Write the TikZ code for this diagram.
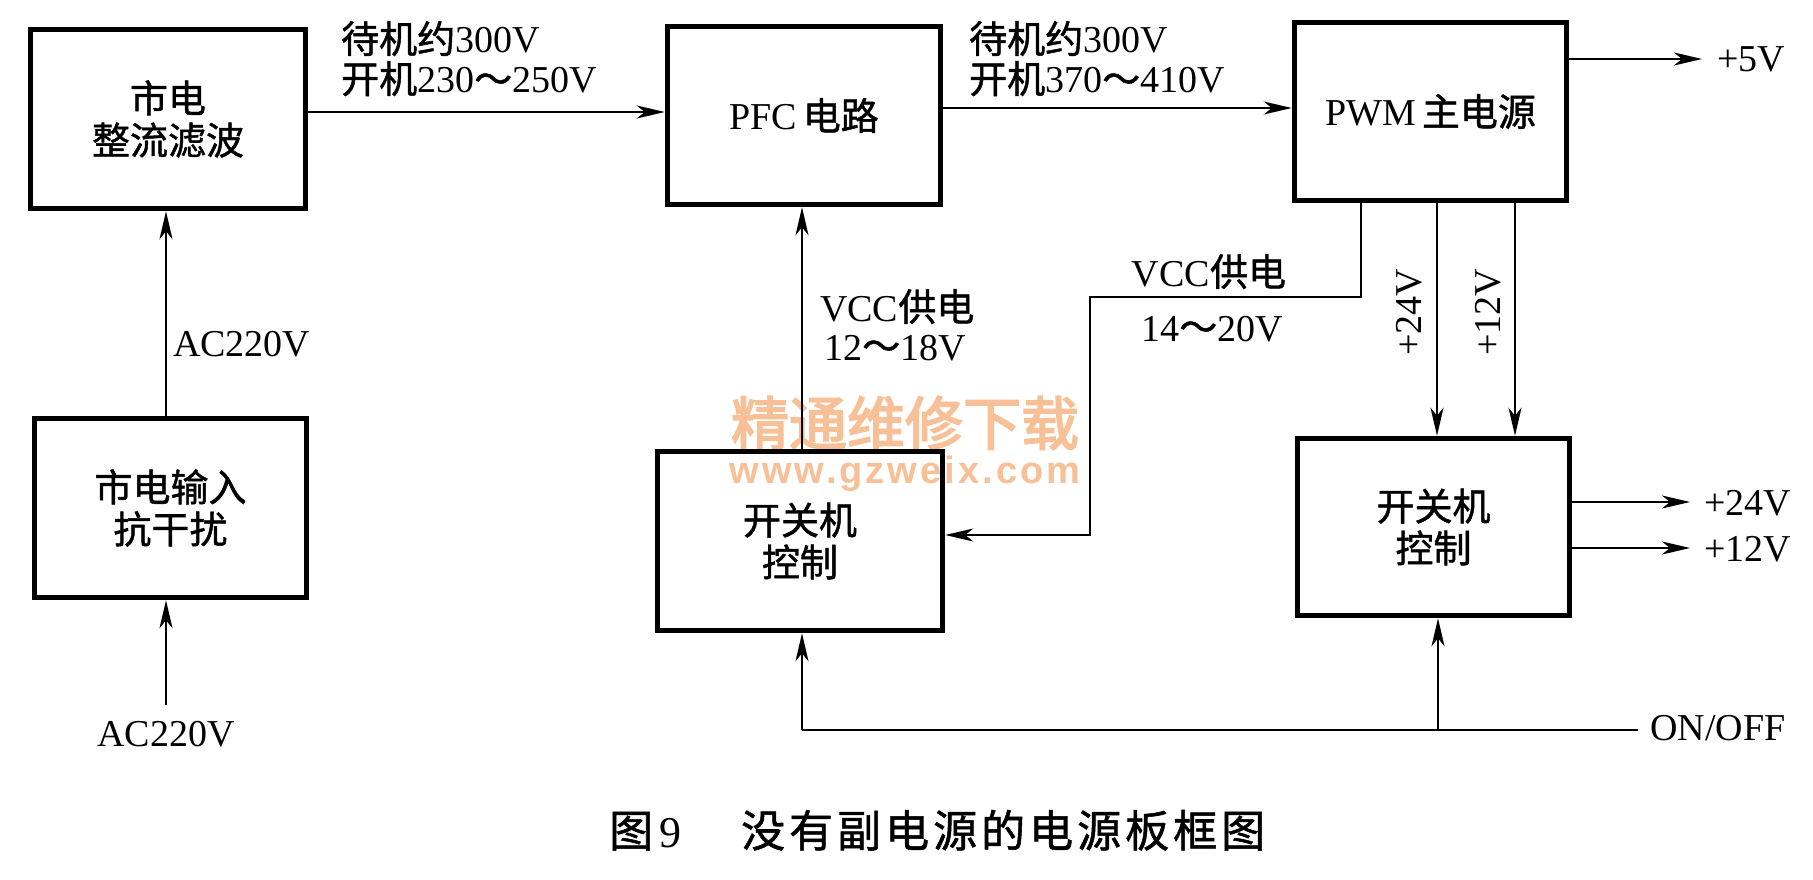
\documentclass[tikz,border=0pt]{standalone}
\usepackage{fontspec}
\setmainfont{Liberation Serif}
\newfontfamily\cjk{Noto Sans CJK SC}[FakeBold=1.2]
\newfontfamily\cjkwm{Noto Sans CJK SC}[FakeBold=3]
\newfontfamily\wmlatin{Liberation Sans}[LetterSpace=8]
\usetikzlibrary{arrows.meta}
\definecolor{wmcol}{RGB}{247,192,150}
\begin{document}
\begin{tikzpicture}[x=1pt,y=-1pt,
  box/.style={draw, line width=5.5pt, inner sep=0pt, align=center, font=\fontsize{38}{42}\selectfont},
  con/.style={line width=2.5pt},
  arr/.style={con, -{Stealth[length=28pt,width=13pt,inset=8pt]}},
  lbl/.style={inner sep=0pt, font=\fontsize{38}{42}\selectfont},
  wm/.style={inner sep=0pt, text=wmcol}]
\useasboundingbox[fill=white] (0,0) rectangle (1813,880);
% watermark
\node[wm, font=\fontsize{58}{60}\selectfont] (wmA) at (905,423) {\cjkwm 精通维修下载};
\node[wm, font=\fontsize{38}{40}\selectfont] (wmB) at (905,474) {\wmlatin\bfseries www.gzweix.com};
% boxes
\node[box, minimum width=275pt, minimum height=179pt] (b1) at (168,119) {{\cjk 市电}\\{\cjk 整流滤波}};
\node[box, minimum width=273pt, minimum height=178pt] (pfc) at (804,115.5) {PFC\kern6pt{\cjk 电路}};
\node[box, minimum width=272pt, minimum height=178pt] (pwm) at (1430.5,111.5) {PWM\kern6pt{\cjk 主电源}};
\node[box, minimum width=272pt, minimum height=179pt] (b2) at (170.5,508) {{\cjk 市电输入}\\{\cjk 抗干扰}};
\node[box, minimum width=285pt, minimum height=179pt] (sw1) at (800,541) {{\cjk 开关机}\\{\cjk 控制}};
\node[box, minimum width=272pt, minimum height=177pt] (sw2) at (1433.5,527) {{\cjk 开关机}\\{\cjk 控制}};
% labels
\node[lbl, anchor=base west] (t1a) at (341,53) {{\cjk 待机约}300V};
\node[lbl, anchor=base west] (t1b) at (341,93) {{\cjk 开机}230{\cjk ～}250V};
\node[lbl, anchor=base west] (t2a) at (969,53) {{\cjk 待机约}300V};
\node[lbl, anchor=base west] (t2b) at (969,93) {{\cjk 开机}370{\cjk ～}410V};
\node[lbl, anchor=base west] (t5) at (1717,72) {+5V};
\node[lbl, anchor=base] (tv2a) at (1209,286) {VCC{\cjk 供电}};
\node[lbl, anchor=base] (tv2b) at (1212,341) {14{\cjk ～}20V};
\node[lbl, anchor=base west] (tv1a) at (820,321) {VCC{\cjk 供电}};
\node[lbl, anchor=base west] (tv1b) at (824,360) {12{\cjk ～}18V};
\node[lbl, anchor=base west] (tac1) at (173,356) {AC220V};
\node[lbl, anchor=base] (tac2) at (166,746) {AC220V};
\node[lbl, rotate=90] (t24v) at (1409,312) {+24V};
\node[lbl, rotate=90] (t12v) at (1488,312) {+12V};
\node[lbl, anchor=base west] (to24) at (1704,515) {+24V};
\node[lbl, anchor=base west] (to12) at (1704,561) {+12V};
\node[lbl, anchor=base west] (toff) at (1650,740) {ON/OFF};
\node[anchor=base west, inner sep=0pt, font=\fontsize{44}{48}\selectfont] (cap) at (609,847) {{\cjk 图}\kern6pt 9\hspace{60pt}{\cjk 没\kern4pt 有\kern4pt 副\kern4pt 电\kern4pt 源\kern4pt 的\kern4pt 电\kern4pt 源\kern4pt 板\kern4pt 框\kern4pt 图}};
% helper coordinates
\coordinate (ya) at (0,112);
\coordinate (yb) at (0,108);
\coordinate (e5) at (1702,59);
\coordinate (v1) at (1361,297);
\coordinate (v2) at (1090,297);
\coordinate (v3) at (1090,535);
\coordinate (cx) at (802,0);
\coordinate (c24) at (1437,0);
\coordinate (c12) at (1515,0);
\coordinate (o24) at (1690,502);
\coordinate (o12) at (1690,548);
\coordinate (oe) at (1638,730);
\coordinate (oj) at (1438,730);
\coordinate (ol) at (802,730);
\coordinate (ax) at (166,0);
\coordinate (ain) at (166,705);
% connectors
\draw[arr] (b1.east |- ya) -- (pfc.west |- ya);
\draw[arr] (pfc.east |- yb) -- (pwm.west |- yb);
\draw[arr] (pwm.east |- e5) -- (e5);
\draw[arr] (pwm.south -| v1) -- (v1) -- (v2) -- (v3) -- (sw1.east |- v3);
\draw[arr] (sw1.north -| cx) -- (pfc.south -| cx);
\draw[arr] (pwm.south -| c24) -- (sw2.north -| c24);
\draw[arr] (pwm.south -| c12) -- (sw2.north -| c12);
\draw[arr] (sw2.east |- o24) -- (o24);
\draw[arr] (sw2.east |- o12) -- (o12);
\draw[con] (oe) -- (ol);
\draw[arr] (ol) -- (sw1.south -| ol);
\draw[arr] (oj) -- (sw2.south -| oj);
\draw[arr] (b2.north -| ax) -- (b1.south -| ax);
\draw[arr] (ain) -- (b2.south -| ax);
\end{tikzpicture}
\end{document}
